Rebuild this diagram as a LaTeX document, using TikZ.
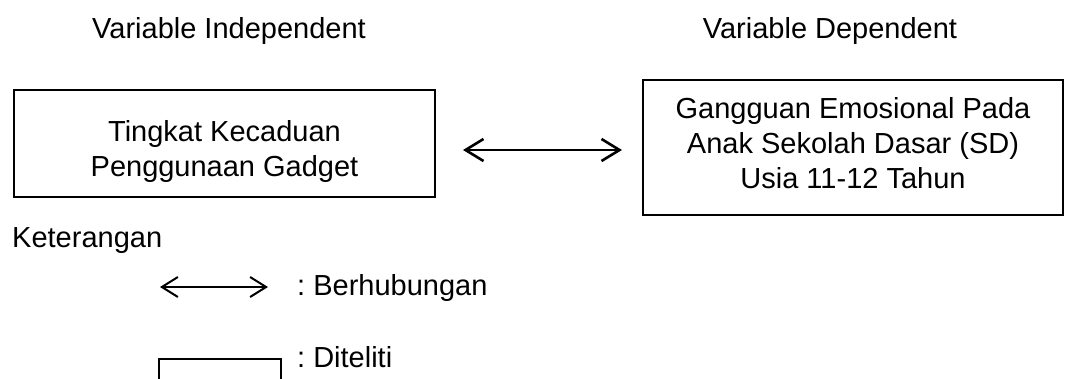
\documentclass[tikz,border=0pt]{standalone}
\usepackage{fontspec}
\setmainfont{Liberation Sans}
\usetikzlibrary{arrows.meta}
\begin{document}
\frenchspacing
\begin{tikzpicture}[x=1pt,y=-1pt,
  every node/.style={font=\fontsize{29}{35}\selectfont, inner sep=0pt},
  box/.style={draw, line width=2pt},
  boxtext/.style={align=center},
  rel/.style={{Straight Barb[length=18pt,width=22pt,line width=2.6pt]}-{Straight Barb[length=18pt,width=22pt,line width=2.6pt]}, line width=2.2pt},
  legrel/.style={{Straight Barb[length=16pt,width=20pt,line width=2pt]}-{Straight Barb[length=16pt,width=20pt,line width=2pt]}, line width=1.8pt},
  lbl/.style={anchor=base west},
  ttl/.style={anchor=base}]
\useasboundingbox (0,0) rectangle (1065,378);
\clip (0,0) rectangle (1065,378);
% titles
\node[ttl] (tI) at (229,38) {Variable Independent};
\node[ttl] (tD) at (830,38) {Variable Dependent};
% boxes
\node[box, minimum width=421pt, minimum height=107pt] (ind) at (224.5,143.5) {};
\node[boxtext] (indT) at (224.5,151) {Tingkat Kecaduan\\Penggunaan Gadget};
\node[box, minimum width=420pt, minimum height=135pt] (dep) at (853,147.5) {};
\node[boxtext] (depT) at (853,143.5) {Gangguan Emosional Pada\\Anak Sekolah Dasar (SD)\\Usia 11-12 Tahun};
% relation arrow
\coordinate (a1) at (463,150);
\coordinate (a2) at (622,150);
\draw[rel] (a1) -- (a2);
% legend
\node[lbl] (ket) at (12,247) {Keterangan};
\coordinate (l1) at (160,287);
\coordinate (l2) at (268,287);
\draw[legrel] (l1) -- (l2);
\node[lbl] (lb1) at (297,295) {: Berhubungan};
\node[box, minimum width=122pt, minimum height=60pt, anchor=north west] (lbox) at (158,358) {};
\node[lbl] (lb2) at (297,367) {: Diteliti};
\end{tikzpicture}
\end{document}
